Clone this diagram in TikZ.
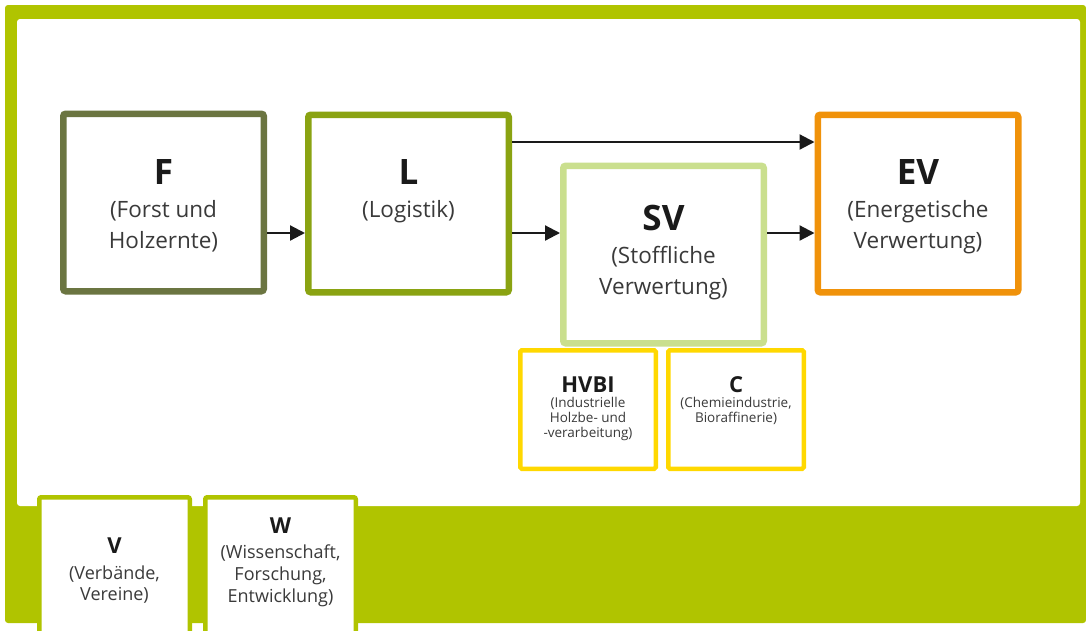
\documentclass[tikz,border=0pt]{standalone}
\usepackage{fontspec}
\setmainfont{Open Sans}
\usetikzlibrary{arrows.meta}
\definecolor{framegreen}{HTML}{B0C400}
\definecolor{olive}{HTML}{6B7541}
\definecolor{lgreen}{HTML}{8AA312}
\definecolor{svgreen}{HTML}{CADF8E}
\definecolor{evorange}{HTML}{F0920A}
\definecolor{cyellow}{HTML}{FFD800}
\definecolor{txt}{HTML}{3A3A3A}
\definecolor{ttl}{HTML}{1A1A1A}
\begin{document}
\begin{tikzpicture}[x=1pt,y=-1pt,
  mainbox/.style={draw, line width=6.5pt, fill=white, rounded corners=2.5pt,
    minimum width=200.5pt, minimum height=177.5pt, inner sep=0pt},
  subbox/.style={draw=cyellow, line width=4.5pt, fill=white, rounded corners=1.5pt,
    minimum width=135.5pt, minimum height=118.5pt, inner sep=0pt},
  extbox/.style={draw=framegreen, line width=4.5pt, fill=white, rounded corners=2pt,
    minimum width=150.5pt, minimum height=150.5pt, inner sep=0pt},
  bigtitle/.style={font=\bfseries\fontsize{35}{35}\selectfont, text=ttl, anchor=base, inner sep=0pt},
  bigsub/.style={font=\fontsize{22.5}{22.5}\selectfont, text=txt, anchor=base, inner sep=0pt},
  midtitle/.style={font=\bfseries\fontsize{22}{22}\selectfont, text=ttl, anchor=base, inner sep=0pt},
  smallsub/.style={font=\fontsize{13.5}{13.5}\selectfont, text=txt, anchor=base, inner sep=0pt},
  extsub/.style={font=\fontsize{18}{18}\selectfont, text=txt, anchor=base, inner sep=0pt},
  arr/.style={draw=ttl, line width=2.2pt, -{Triangle[length=15pt,width=15pt]}}
]
\useasboundingbox (0,0) rectangle (1086,630);
% frame
\fill[framegreen, rounded corners=3pt] (5,5) rectangle (1086,623);
\fill[white, rounded corners=3pt] (17,19) rectangle (1080,506);

% main boxes
\node[mainbox, draw=olive] (F) at (163.5,202.5) {};
\node[mainbox, draw=lgreen] (L) at (408.5,203.5) {};
\node[mainbox, draw=svgreen] (SV) at (663.5,254.5) {};
\node[mainbox, draw=evorange] (EV) at (918,203.5) {};

% sub boxes
\node[subbox] (HVBI) at (588,409.5) {};
\node[subbox] (C) at (736,409.5) {};

% external boxes
\node[extbox] (V) at (114.5,572.5) {};
\node[extbox] (W) at (280.5,572.5) {};

% texts
\node[bigtitle] (Ft) at (163.5,184) {F};
\node[bigsub] (Fs1) at (163.5,217) {(Forst und};
\node[bigsub] (Fs2) at (163.5,248) {Holzernte)};

\node[bigtitle] (Lt) at (408.5,184) {L};
\node[bigsub] (Ls1) at (408.5,217) {(Logistik)};

\node[bigtitle] (SVt) at (663.5,230) {SV};
\node[bigsub] (SVs1) at (663.5,263) {(Stoffliche};
\node[bigsub] (SVs2) at (663.5,294) {Verwertung)};

\node[bigtitle] (EVt) at (918,184) {EV};
\node[bigsub] (EVs1) at (918,217) {(Energetische};
\node[bigsub] (EVs2) at (918,248) {Verwertung)};

\node[midtitle] (HVBIt) at (588,392) {HVBI};
\node[smallsub] (HVBIs1) at (588,407) {(Industrielle};
\node[smallsub] (HVBIs2) at (588,422) {Holzbe- und};
\node[smallsub] (HVBIs3) at (588,437) {-verarbeitung)};

\node[midtitle] (Ct) at (736,392) {C};
\node[smallsub] (Cs1) at (736,407) {(Chemieindustrie,};
\node[smallsub] (Cs2) at (736,422) {Bioraffinerie)};

\node[midtitle] (Vt) at (114.5,553) {V};
\node[extsub] (Vs1) at (114.5,579) {(Verbände,};
\node[extsub] (Vs2) at (114.5,600) {Vereine)};

\node[midtitle] (Wt) at (280.5,533) {W};
\node[extsub] (Ws1) at (280.5,558) {(Wissenschaft,};
\node[extsub] (Ws2) at (280.5,580) {Forschung,};
\node[extsub] (Ws3) at (280.5,602) {Entwicklung)};

% arrows
\coordinate (ya) at (0,233);
\coordinate (yb) at (0,142);
\draw[arr] (F.east |- ya) -- (L.west |- ya);
\draw[arr] (L.east |- ya) -- (SV.west |- ya);
\draw[arr] (SV.east |- ya) -- (EV.west |- ya);
\draw[arr] (L.east |- yb) -- (EV.west |- yb);
\end{tikzpicture}
\end{document}
